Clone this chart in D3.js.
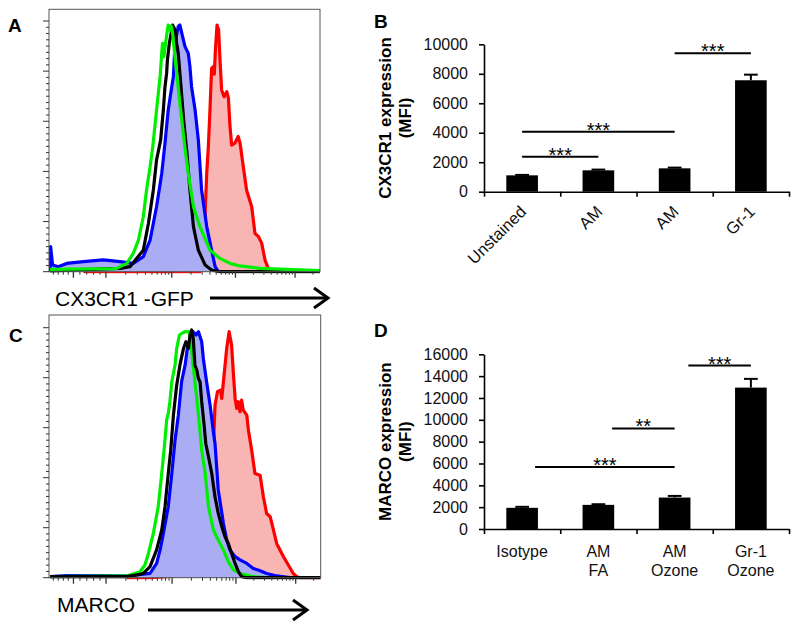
<!DOCTYPE html>
<html><head><meta charset="utf-8">
<script src="https://cdn.jsdelivr.net/npm/d3@7"></script>
<style>body{margin:0;background:#fff}svg{display:block;font-family:"Liberation Sans",Arial,sans-serif}</style>
</head><body><svg id="c" width="800" height="628"></svg>
<script>
// ---------- Histogram data: [channel (0-1000), % of max] ----------
const cxRed = [[127,0],[557,0],[567,8.6],[576,23.3],[582,39.2],[588,49.9],[594,64.6],[600,81.1],[606,81.8],[610,78.8],[614,88.4],[620,98.4],[626,96.4],[631,84.4],[637,72.5],[646,69.8],[656,71.8],[662,69.2],[668,57.9],[674,50.5],[686,51.3],[698,54.0],[705,51.3],[717,41.9],[729,32.6],[748,25.9],[760,15.3],[773,14.0],[785,11.3],[797,4.7],[809,1.3],[818,0]];
const cxBlue = [[4,0],[6,10],[13,2.7],[34,2.0],[65,3.3],[127,4.0],[200,4.7],[262,4.0],[311,3.3],[348,6.0],[373,12.6],[397,26.0],[416,39.2],[428,51.3],[440,64.6],[453,73.8],[459,77.8],[465,91.1],[477,97.8],[483,98.4],[493,93.8],[502,89.8],[514,87.1],[520,81.8],[526,73.8],[539,64.6],[551,52.6],[563,32.6],[582,18.0],[600,8.6],[613,2.0],[625,0]];
const cxBlack = [[4,0.3],[262,1.3],[299,2.0],[323,5.3],[348,8.6],[367,19.3],[385,32.6],[397,44.6],[412,52.6],[422,64.6],[428,73.8],[434,79.1],[437,84.4],[444,91.1],[453,96.4],[456,98.4],[465,96.4],[471,91.1],[477,87.1],[483,79.1],[490,69.8],[498,59.2],[508,48.6],[520,32.6],[533,18.0],[551,8.6],[576,2.7],[600,0.7],[631,0],[1000,0]];
const cxGreen = [[4,0.9],[237,1.2],[250,1.3],[287,3.3],[311,7.3],[330,12.6],[348,21.9],[360,32.6],[373,41.9],[383,49.9],[397,64.6],[410,77.8],[416,87.1],[419,91.1],[424,85.8],[430,91.1],[437,96.4],[440,98.4],[446,96.4],[451,98.0],[456,95.1],[461,89.8],[467,83.1],[474,76.5],[483,67.0],[493,57.5],[502,49.2],[514,39.2],[533,25.9],[557,18.0],[594,8.6],[631,5.3],[668,3.3],[705,2.3],[779,1.3],[926,0.7],[1000,0.4]];

const mcRed = [[286,0],[372,0],[531,1.1],[580,13.7],[599,40.4],[605,51.7],[611,69.0],[620,74.4],[631,75.0],[636,71.7],[642,78.4],[654,91.7],[663,98.4],[672,93.1],[679,81.1],[685,71.7],[691,67.7],[697,70.4],[703,66.4],[709,71.0],[715,67.0],[728,65.0],[734,59.0],[746,51.0],[758,41.7],[777,41.0],[789,32.4],[801,25.7],[814,24.4],[826,19.1],[838,13.7],[863,8.4],[881,5.1],[899,1.7],[912,0.4],[924,0],[1000,0]];
const mcBlue = [[4,0.4],[65,0.8],[188,0.8],[286,0.7],[372,1.7],[396,5.7],[409,11.1],[421,17.7],[439,28.4],[452,41.7],[464,55.1],[476,65.0],[488,78.4],[501,85.1],[509,91.7],[519,93.7],[531,98.4],[541,97.1],[550,98.4],[556,96.4],[562,94.4],[568,87.7],[580,78.4],[593,69.0],[605,58.4],[611,53.7],[623,35.1],[642,21.7],[654,15.1],[666,11.1],[685,8.4],[703,7.1],[728,5.7],[752,3.7],[777,2.8],[801,1.7],[838,0.7],[887,0]];
const mcBlack = [[4,0.4],[286,0.4],[323,1.1],[347,1.7],[372,4.4],[396,11.1],[415,19.1],[427,28.4],[439,41.7],[448,51.0],[458,65.0],[470,77.0],[482,85.1],[495,91.7],[504,94.4],[513,91.7],[519,97.1],[525,99.1],[531,95.7],[537,85.1],[544,83.1],[550,79.7],[556,78.4],[562,70.4],[571,61.0],[577,53.7],[587,48.4],[599,41.7],[611,32.4],[623,25.7],[636,20.4],[648,16.4],[660,13.7],[672,9.7],[685,5.7],[697,2.4],[709,0.4],[728,0],[1000,0]];
const mcGreen = [[4,0.4],[286,0.7],[335,2.4],[353,5.1],[366,9.7],[384,17.7],[402,28.4],[415,41.7],[427,55.1],[433,63.0],[439,65.7],[445,70.4],[452,78.4],[464,85.1],[470,91.7],[480,97.1],[488,97.7],[501,98.4],[513,98.4],[519,97.1],[525,91.1],[531,84.4],[537,78.4],[544,71.7],[550,65.0],[556,58.4],[562,51.0],[575,41.7],[587,28.4],[605,19.1],[623,15.1],[642,11.1],[660,6.4],[679,3.1],[703,1.7],[752,0.4],[801,0]];

const histXMajor = [90,210,453,688,908];
const histXMinor = [16,34,53,71,114,139,164,188,283,326,356,380,399,415,429,442,524,565,594,617,636,652,665,677,754,793,820,842,859,874,887,898,974];
const histYMajor = [0,20,40,60,80,100];

// ---------- Bar chart data ----------
const catsB = ["Unstained","AM","AM","Gr-1"];
const valsB = [1110,1450,1585,7560];
const errB  = [30,50,50,380];
const ticksB = [0,2000,4000,6000,8000,10000];
const sigB = [{a:0,b:1,v:2375,t:"***"},{a:0,b:2,v:4070,t:"***"},{a:2,b:3,v:9390,t:"***"}];

const catsD = [["Isotype"],["AM","FA"],["AM","Ozone"],["Gr-1","Ozone"]];
const valsD = [1940,2210,2880,12950];
const errD  = [90,60,150,800];
const ticksD = [0,2000,4000,6000,8000,10000,12000,14000,16000];
const sigD = [{a:0.17,b:2,v:5667,t:"***"},{a:1.18,b:2,v:9212,t:"**"},{a:2.18,b:3,v:14970,t:"***"}];

const svg = d3.select("#c");
svg.append("rect").attr("width",800).attr("height",628).attr("fill","#fff");

function hist(id, box, series, label, labelPos, xTitle, arrow){
  const x = d3.scaleLinear().domain([0,1000]).range([box.l, box.r]);
  const y = d3.scaleLinear().domain([0,100]).range([box.b, box.y100]);
  const g = svg.append("g");
  g.append("clipPath").attr("id",id).append("rect")
    .attr("x",box.l).attr("y",box.t).attr("width",box.r-box.l).attr("height",box.b-box.t+2);
  const pg = g.append("g").attr("clip-path",`url(#${id})`);
  const area = d3.area().x(d=>x(d[0])).y0(y(0)).y1(d=>y(d[1]));
  const line = d3.line().x(d=>x(d[0])).y(d=>y(d[1]));
  series.forEach(s=>{
    if(s.fill) pg.append("path").datum(s.data).attr("d",area).attr("fill",s.fill);
    pg.append("path").datum(s.data).attr("d",line).attr("fill","none")
      .attr("stroke",s.color).attr("stroke-width",3.2).attr("stroke-linejoin","round");
  });
  g.append("rect").attr("x",box.l).attr("y",box.t).attr("width",box.r-box.l).attr("height",box.b-box.t)
    .attr("fill","none").attr("stroke","#555").attr("stroke-width",1);
  histYMajor.forEach(v=>g.append("line").attr("x1",box.l-6).attr("x2",box.l).attr("y1",y(v)).attr("y2",y(v)).attr("stroke","#333"));
  d3.range(0,100,2.5).filter(v=>v%20!==0).forEach(v=>g.append("line").attr("x1",box.l-3).attr("x2",box.l).attr("y1",y(v)).attr("y2",y(v)).attr("stroke","#333"));
  histXMajor.forEach(v=>g.append("line").attr("x1",x(v)).attr("x2",x(v)).attr("y1",box.b).attr("y2",box.b+6).attr("stroke","#333").attr("stroke-width",1.3));
  histXMinor.forEach(v=>g.append("line").attr("x1",x(v)).attr("x2",x(v)).attr("y1",box.b).attr("y2",box.b+3).attr("stroke","#333"));
  g.append("text").attr("x",labelPos[0]).attr("y",labelPos[1]).attr("font-size",19).attr("font-weight","bold").text(label);
  g.append("text").attr("x",xTitle[0]).attr("y",xTitle[1]).attr("font-size",21).text(xTitle[2]);
  g.append("line").attr("x1",arrow[0]).attr("x2",arrow[1]).attr("y1",arrow[2]).attr("y2",arrow[2]).attr("stroke","#000").attr("stroke-width",3);
  g.append("path").attr("d",`M${arrow[1]-14},${arrow[2]-10}L${arrow[1]},${arrow[2]}L${arrow[1]-14},${arrow[2]+10}`)
    .attr("fill","none").attr("stroke","#000").attr("stroke-width",3).attr("stroke-linejoin","miter");
}

hist("clipA",{l:49,r:320,t:9.3,b:271.7,y100:21},[
  {data:cxRed,color:"#ff0000",fill:"#f9b4b4"},
  {data:cxBlue,color:"#0000ff",fill:"#aaadf4"},
  {data:cxBlack,color:"#000"},
  {data:cxGreen,color:"#00ee00"}],"A",[8,32],[55,306,"CX3CR1 -GFP"],[210,328,298]);

hist("clipC",{l:49,r:320.7,t:315,b:577.7,y100:327.7},[
  {data:mcRed,color:"#ff0000",fill:"#f9b4b4"},
  {data:mcBlue,color:"#0000ff",fill:"#aaadf4"},
  {data:mcGreen,color:"#00ee00"},
  {data:mcBlack,color:"#000"}],"C",[9,342],[57,612,"MARCO"],[148,307,610]);

function bars(opts){
  const {cats,vals,errs,ticks,sigs,y0,y1,max,label,labelPos,title,multi} = opts;
  const x = d3.scaleBand().domain(d3.range(cats.length)).range([484,789]).padding(0);
  const y = d3.scaleLinear().domain([0,max]).range([y0,y1]);
  const pos = i => x.range()[0] + (i+0.5)*x.step();
  const w = x.step()*0.415;
  const g = svg.append("g");
  g.selectAll(".bar").data(vals).join("rect")
    .attr("x",(d,i)=>pos(i)-w/2).attr("y",d=>y(d)).attr("width",w).attr("height",d=>y(0)-y(d)).attr("fill","#000");
  vals.forEach((v,i)=>{
    g.append("line").attr("x1",pos(i)).attr("x2",pos(i)).attr("y1",y(v)).attr("y2",y(v+errs[i])).attr("stroke","#000").attr("stroke-width",2);
    g.append("line").attr("x1",pos(i)-x.step()*0.09).attr("x2",pos(i)+x.step()*0.09).attr("y1",y(v+errs[i])).attr("y2",y(v+errs[i])).attr("stroke","#000").attr("stroke-width",2);
  });
  const ya = g.append("g").attr("transform","translate(484,0)")
    .call(d3.axisLeft(y).tickValues(ticks).tickFormat(d3.format("d")).tickSize(5).tickSizeOuter(0).tickPadding(11));
  ya.selectAll("text").attr("font-size",16).attr("font-family","Liberation Sans, Arial, sans-serif").attr("fill","#111");
  ya.selectAll("line,path").attr("stroke","#000").attr("stroke-width",1.6);
  const xl = d3.scaleLinear().domain([0,cats.length]).range([484,789]);
  const xa = g.append("g").attr("transform",`translate(0,${y0})`)
    .call(d3.axisBottom(xl).tickValues(d3.range(cats.length+1)).tickFormat("").tickSize(5).tickSizeOuter(0));
  xa.selectAll("line,path").attr("stroke","#000").attr("stroke-width",1.6);
  sigs.forEach(s=>{
    g.append("line").attr("x1",pos(s.a)).attr("x2",pos(s.b)).attr("y1",y(s.v)).attr("y2",y(s.v)).attr("stroke","#000").attr("stroke-width",2);
    g.append("text").attr("x",(pos(s.a)+pos(s.b))/2).attr("y",y(s.v)+5).attr("text-anchor","middle").attr("font-size",20).text(s.t);
  });
  if(multi){
    cats.forEach((c,i)=>{
      const t = g.append("text").attr("text-anchor","middle").attr("font-size",16).attr("fill","#111");
      c.forEach((line,k)=>t.append("tspan").attr("x",pos(i)).attr("y",y0+28+k*19).text(line));
    });
  } else {
    cats.forEach((c,i)=>{
      g.append("text").attr("transform",`translate(${pos(i)+5},${y0+21}) rotate(-45)`)
        .attr("text-anchor","end").attr("font-size",16.5).attr("fill","#111").text(c);
    });
  }
  const cy = (y0+y1)/2;
  g.append("text").attr("transform",`translate(391,${cy}) rotate(-90)`).attr("text-anchor","middle")
    .attr("font-size",17).attr("font-weight","bold").text(title);
  g.append("text").attr("transform",`translate(411,${cy}) rotate(-90)`).attr("text-anchor","middle")
    .attr("font-size",17).attr("font-weight","bold").text("(MFI)");
  g.append("text").attr("x",labelPos[0]).attr("y",labelPos[1]).attr("font-size",19).attr("font-weight","bold").text(label);
}

bars({cats:catsB,vals:valsB,errs:errB,ticks:ticksB,sigs:sigB,y0:191.7,y1:44.3,max:10000,label:"B",labelPos:[374,28],title:"CX3CR1 expression",multi:false});
bars({cats:catsD,vals:valsD,errs:errD,ticks:ticksD,sigs:sigD,y0:529,y1:354.3,max:16000,label:"D",labelPos:[374,337],title:"MARCO expression",multi:true});
</script></body></html>
